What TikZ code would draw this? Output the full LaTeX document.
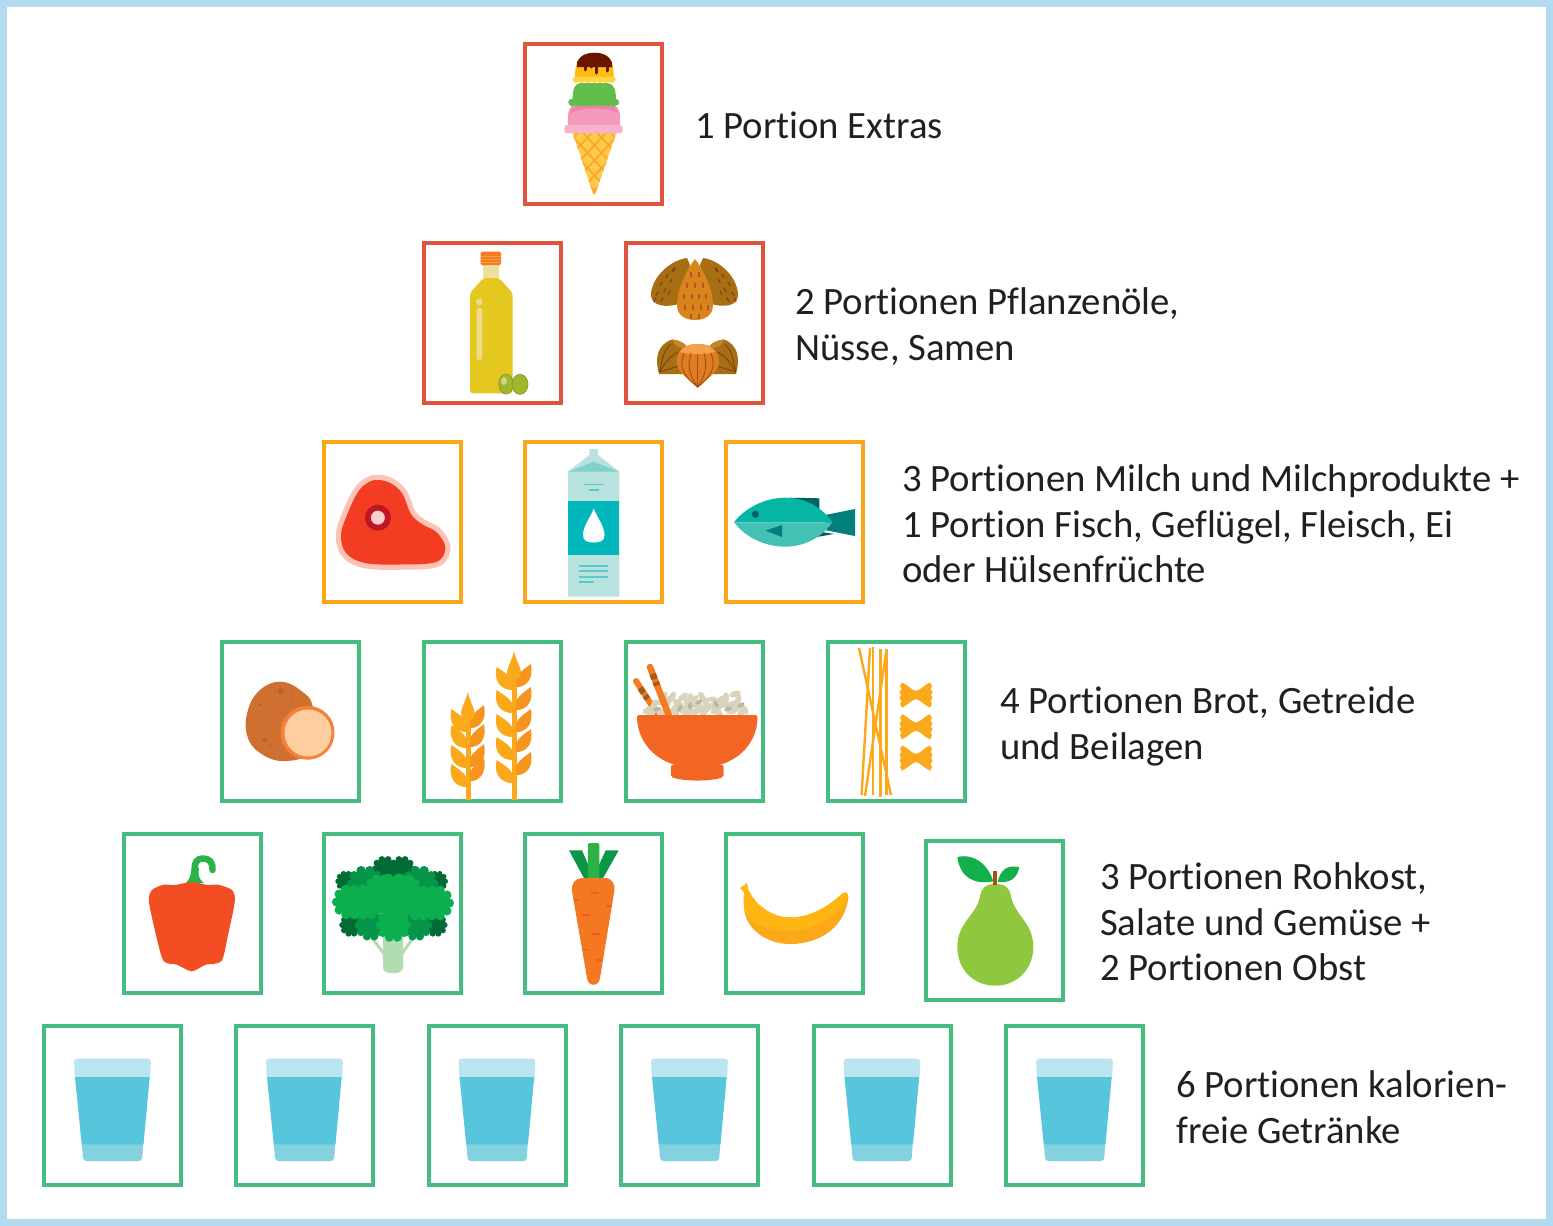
\documentclass[tikz,border=0pt]{standalone}
\usepackage{fontspec}
\setmainfont[Ligatures=NoCommon]{Carlito}
\definecolor{frameblue}{HTML}{B3DAEE}
\definecolor{redbox}{HTML}{E0533D}
\definecolor{orangebox}{HTML}{FAA61A}
\definecolor{greenbox}{HTML}{45BD7E}
\definecolor{ink}{HTML}{231F20}
\definecolor{wheatA}{HTML}{FBA81A}
\definecolor{wheatB}{HTML}{F7941D}
\definecolor{brocA}{HTML}{026B35}
\definecolor{brocB}{HTML}{05944A}
\definecolor{brocC}{HTML}{0BAF4E}
\definecolor{creamP}{HTML}{F59ABD}
\definecolor{creamPb}{HTML}{F8B2CC}
\definecolor{creamG}{HTML}{62BD4A}
\definecolor{creamY}{HTML}{FFD23F}
\definecolor{creamO}{HTML}{FFBC0F}
\tikzset{
  foodbox/.style={rectangle,minimum width=137pt,minimum height=159.5pt,inner sep=0pt,line width=4.4pt,fill=white},
  redfood/.style={foodbox,draw=redbox},
  orangefood/.style={foodbox,draw=orangebox},
  greenfood/.style={foodbox,draw=greenbox},
  caption/.style={anchor=north west,inner sep=0pt,align=left,text=ink,font=\fontsize{38.7}{45.6}\selectfont},
}
\newcommand{\glassicon}[1]{%
  \begin{scope}[shift={(#1-112.5,0)}]
    \fill[rounded corners=3pt,fill={rgb,255:red,185;green,228;blue,240}] (74,1058.7) -- (151,1058.7) -- (150,1080) -- (75,1080) -- cycle;
    \fill[fill={rgb,255:red,132;green,210;blue,224},rounded corners=3pt] (81.5,1140) -- (143.5,1140) -- (142,1161) -- (83.3,1161) -- cycle;
    \fill[fill={rgb,255:red,87;green,198;blue,220}] (75,1077) -- (149.7,1077) -- (143.5,1144.3) -- (81.7,1144.3) -- cycle;
  \end{scope}}
\newcommand{\wleaf}[4]{% x y xscale fill
  \fill[#4,shift={(#1,#2)},xscale=#3] (0,0) .. controls (-12,0.5) and (-19,-10) .. (-15.5,-23) .. controls (-11,-19) and (-3,-16) .. (0,-8) -- cycle;}
\newcommand{\floret}[4]{% x y r colour
  \fill[#4] (#1,#2) circle (#3);
  \foreach \a in {0,36,...,324} {\fill[#4] (#1,#2) ++(\a:#3) circle ({#3*0.34});}}
\newcommand{\farfalle}[1]{%
  \fill[wheatA,shift={(916,#1)}] (0,-4) .. controls (-5,-5) and (-9,-11) .. (-14,-12.5) -- (-16,-9) -- (-14.5,-6) -- (-16.5,-3) -- (-15,0) -- (-16.5,3) -- (-14.5,6) -- (-16,9) -- (-14,12.5) .. controls (-9,11) and (-5,5) .. (0,4) .. controls (5,5) and (9,11) .. (14,12.5) -- (16,9) -- (14.5,6) -- (16.5,3) -- (15,0) -- (16.5,-3) -- (14.5,-6) -- (16,-9) -- (14,-12.5) .. controls (9,-11) and (5,-5) .. (0,-4) -- cycle;}
\begin{document}
\begin{tikzpicture}[x=1pt,y=-1pt]
\useasboundingbox (0,0) rectangle (1553,1226);
\fill[white] (0,0) rectangle (1553,1226);
\draw[frameblue,line width=7pt] (3.5,3.5) rectangle (1549.5,1222.5);

% boxes
\node[redfood] (b11) at (593.5,124) {};
\node[redfood] (b21) at (492.5,323) {};
\node[redfood] (b22) at (694.5,323) {};
\node[orangefood] (b31) at (392.5,522) {};
\node[orangefood] (b32) at (593.5,522) {};
\node[orangefood] (b33) at (794.5,522) {};
\node[greenfood] (b41) at (290.5,721.5) {};
\node[greenfood] (b42) at (492.5,721.5) {};
\node[greenfood] (b43) at (694.5,721.5) {};
\node[greenfood] (b44) at (896.5,721.5) {};
\node[greenfood] (b51) at (192.5,913.5) {};
\node[greenfood] (b52) at (392.5,913.5) {};
\node[greenfood] (b53) at (593.5,913.5) {};
\node[greenfood] (b54) at (794.5,913.5) {};
\node[greenfood] (b55) at (994.5,920.5) {};
\node[greenfood] (b61) at (112.5,1105.5) {};
\node[greenfood] (b62) at (304.5,1105.5) {};
\node[greenfood] (b63) at (497.5,1105.5) {};
\node[greenfood] (b64) at (689.5,1105.5) {};
\node[greenfood] (b65) at (882.5,1105.5) {};
\node[greenfood] (b66) at (1074.5,1105.5) {};

% captions
\node[caption] (t1) at (695,111.5) {1 Portion Extras};
\node[caption] (t2) at (795,287.5) {2 Portionen Pflanzenöle,\\Nüsse, Samen};
\node[caption] (t3) at (902,464.5) {3 Portionen Milch und Milchprodukte +\\1 Portion Fisch, Geflügel, Fleisch, Ei\\oder Hülsenfrüchte};
\node[caption] (t4) at (1000,686.5) {4 Portionen Brot, Getreide\\und Beilagen};
\node[caption] (t5) at (1100,862.5) {3 Portionen Rohkost,\\Salate und Gemüse +\\2 Portionen Obst};
\node[caption] (t6) at (1176,1070.5) {6 Portionen kalorien-\\freie Getränke};

% ice cream
\begin{scope}
  \fill[fill={rgb,255:red,255;green,201;blue,74}] (572.3,132) -- (616.7,132) -- (596,192) .. controls (595,196) and (593.5,196) .. (592.5,192) -- cycle;
  \clip (572.3,132) -- (616.7,132) -- (596,192) .. controls (595,196) and (593.5,196) .. (592.5,192) -- cycle;
  \foreach \k in {-40,-26,...,52} {
    \draw[fill=none,draw={rgb,255:red,249;green,165;blue,43},line width=1.6pt] (594.5+\k-30,130) -- (594.5+\k+30,195);
    \draw[draw={rgb,255:red,249;green,165;blue,43},line width=1.6pt] (594.5-\k+30,130) -- (594.5-\k-30,195);}
\end{scope}
\fill[creamP] (568,126) .. controls (567,112) and (569,106) .. (576,105) -- (612,105) .. controls (619,106) and (621,112) .. (620,126) -- cycle;
\fill[fill={rgb,255:red,238;green,130;blue,170}] (570,113) .. controls (572,107) and (576,105) .. (582,105) -- (606,105) .. controls (612,105) and (616,107) .. (618,113) .. controls (605,107) and (585,107) .. (570,113) -- cycle;
\fill[rounded corners=3pt,creamPb] (564.3,125) rectangle (622.7,133.3);
\fill[creamG] (572.7,100) .. controls (572.5,90) and (574,84) .. (580,83) -- (608,83) .. controls (614,84) and (616,90) .. (616,100) -- cycle;
\fill[rounded corners=3pt,creamG] (568.3,99) rectangle (619,105.5);
\foreach \q in {572,578,...,616}{\fill[creamG] (\q,105.3) circle (1.5);}
\fill[creamO] (575,78) .. controls (575,62) and (578,53) .. (594.5,53) .. controls (611,53) and (613.7,62) .. (613.7,78) -- cycle;
\fill[rounded corners=3pt,creamY] (572.7,76.7) rectangle (615.7,82.2);
\foreach \q in {576,582,...,612}{\fill[creamY] (\q,82.2) circle (1.3);}
\fill[fill={rgb,255:red,106;green,21;blue,0}] (577,64) .. controls (578,57) and (585,52.7) .. (594.5,52.7) .. controls (604,52.7) and (611,57) .. (612,64) -- (612,67) -- (577,67) -- cycle;
\foreach \dx/\dy in {578.5/66,585/70,591.5/67,596.7/73,602.7/66,607.7/71,610.5/66}{
  \draw[draw={rgb,255:red,106;green,21;blue,0},line width=3pt,line cap=round] (\dx,62) -- (\dx,\dy);}

% oil bottle
\fill[fill={rgb,255:red,229;green,200;blue,31},rounded corners=3pt] (483.3,278) -- (499,278) -- (512.7,293) -- (512.7,393.3) -- (470,393.3) -- (470,293) -- cycle;
\fill[fill={rgb,255:red,237;green,223;blue,160}] (483.3,265) rectangle (499,278.3);
\fill[rounded corners=1.5pt,fill={rgb,255:red,244;green,123;blue,32}] (480.7,251.7) rectangle (501,265);
\foreach \yy in {256,259.5,262} {\draw[draw={rgb,255:red,252;green,160;blue,70},line width=.7pt] (480.7,\yy) -- (501,\yy);}
\fill[fill={rgb,255:red,239;green,220;blue,138}] (479.3,302) circle (3.3);
\fill[rounded corners=2.5pt,fill={rgb,255:red,239;green,220;blue,138}] (476.7,308) rectangle (482.3,360);
\fill[fill={rgb,255:red,163;green,181;blue,43},draw={rgb,255:red,134;green,160;blue,58},line width=.8pt] (506,384) ellipse (7.3 and 10);
\fill[fill={rgb,255:red,163;green,181;blue,43},draw={rgb,255:red,134;green,160;blue,58},line width=.8pt] (520,384.3) ellipse (8 and 10);
\fill[fill={rgb,255:red,205;green,215;blue,130}] (504,381) ellipse (3 and 4);

% almonds
\fill[fill={rgb,255:red,168;green,110;blue,20}] (687,258) .. controls (670,260) and (651,278) .. (651,295) .. controls (651,305) and (664,309) .. (682,303) -- (690,265) -- cycle;
\fill[fill={rgb,255:red,168;green,110;blue,20}] (703,258) .. controls (720,260) and (738,278) .. (738,295) .. controls (738,305) and (726,309) .. (708,303) -- (700,265) -- cycle;
\fill[fill={rgb,255:red,216;green,133;blue,30}] (695,259) .. controls (699,264) and (713,285) .. (713,305) .. controls (713,316) and (704,320) .. (695,320) .. controls (686,320) and (677,316) .. (677,305) .. controls (677,285) and (691,264) .. (695,259) -- cycle;
\foreach \px/\py in {675/268,668/274,662/282,672/279,666/288,658/292,670/291,663/298,674/268,656/298}{
  \draw[draw={rgb,255:red,130;green,65;blue,25},line width=1.2pt,line cap=round] (\px,\py) -- ++(-2,3.5);
  \draw[draw={rgb,255:red,130;green,65;blue,25},line width=1.2pt,line cap=round] (1390-\px,\py) -- ++(2,3.5);}
\foreach \px/\py in {691/272,699/272,687/283,695/283,703/283,684/294,692/294,699/294,706/294,685/305,693/305,701/305,708/305,691/314,699/314}{
  \draw[draw={rgb,255:red,190;green,83;blue,31},line width=1.2pt] (\px,\py) -- ++(0,4.5);}

% hazelnuts
\fill[fill={rgb,255:red,166;green,111;blue,20}] (659,374) .. controls (655,360) and (656,345) .. (672,339.5) .. controls (680,340) and (688,345) .. (688,350) -- (690,374) -- cycle;
\fill[fill={rgb,255:red,166;green,111;blue,20}] (736,374) .. controls (740,360) and (739,345) .. (724,339.5) .. controls (716,340) and (708,345) .. (708,350) -- (706,374) -- cycle;
\fill[fill={rgb,255:red,196;green,134;blue,44}] (672,339.5) .. controls (680,340) and (688,345) .. (688,350) -- (676,346) -- cycle;
\fill[fill={rgb,255:red,196;green,134;blue,44}] (724,339.5) .. controls (716,340) and (708,345) .. (708,350) -- (720,346) -- cycle;
\foreach \qs in {1,-1}{
  \begin{scope}[shift={(697.7,0)},xscale=\qs]
    \draw[draw={rgb,255:red,125;green,66;blue,18},line width=.9pt] (-27,344) .. controls (-36,352) and (-36,365) .. (-38,372);
    \draw[draw={rgb,255:red,125;green,66;blue,18},line width=.9pt] (-20,352) .. controls (-30,358) and (-34,365) .. (-38,372);
    \draw[draw={rgb,255:red,125;green,66;blue,18},line width=.9pt] (-18,366) .. controls (-26,368) and (-32,370) .. (-38,372);
  \end{scope}}
\fill[fill={rgb,255:red,221;green,127;blue,32}] (676.7,362) .. controls (676.7,350) and (685,344) .. (697.7,344) .. controls (711,344) and (719,350) .. (719,362) .. controls (719,372) and (705,380) .. (697.7,388) .. controls (690,380) and (676.7,372) .. (676.7,362) -- cycle;
\fill[fill={rgb,255:red,246;green,160;blue,77}] (680,352) .. controls (684,346) and (690,344) .. (697.7,344) .. controls (706,344) and (712,346) .. (715,352) .. controls (705,355) and (690,355) .. (680,352) -- cycle;
\foreach \tx/\mx in {684/680,691/688,704/707,711/715}{
  \draw[draw={rgb,255:red,168;green,75;blue,22},line width=.9pt] (\tx,353) .. controls (\mx,365) and (\mx,373) .. (697.7,387);}
\draw[draw={rgb,255:red,168;green,75;blue,22},line width=.9pt] (697.7,354) -- (697.7,387);

% steak
\draw[draw={rgb,255:red,253;green,196;blue,182},line width=10.5pt,line join=round] plot[smooth cycle,tension=.6] coordinates {(379.6,480) (392,484) (402.5,494) (411,514) (421.8,524) (437,532.5) (445.3,548) (436,562) (400,564.5) (365,563) (346,553) (341,535) (347,515) (358,492) (369,482)};
\fill[fill={rgb,255:red,242;green,61;blue,35}] plot[smooth cycle,tension=.6] coordinates {(379.6,480) (392,484) (402.5,494) (411,514) (421.8,524) (437,532.5) (445.3,548) (436,562) (400,564.5) (365,563) (346,553) (341,535) (347,515) (358,492) (369,482)};
\fill[fill={rgb,255:red,190;green,22;blue,34}] (377.9,517.7) circle (13);
\fill[fill={rgb,255:red,249;green,208;blue,204}] (377.9,517.7) circle (7);

% milk carton
\fill[fill={rgb,255:red,183;green,226;blue,222}] (568,596.7) -- (568,471.7) -- (589.5,455) -- (589.5,449) -- (598,449) -- (598,455) -- (619.3,471.7) -- (619.3,596.7) -- cycle;
\fill[fill={rgb,255:red,130;green,208;blue,200}] (568,471.7) -- (593.7,461.7) -- (619.3,471.7) -- cycle;
\fill[fill={rgb,255:red,0;green,184;blue,188}] (568,501) rectangle (619.3,555);
\fill[white] (593.7,508.3) .. controls (596,516) and (604.5,526) .. (604.5,535) .. controls (604.5,541) and (600,542.5) .. (593.7,542.5) .. controls (587.5,542.5) and (583,541) .. (583,535) .. controls (583,526) and (591.5,516) .. (593.7,508.3) -- cycle;
\foreach \qa/\qb/\qc in {584/603.5/484.3,589/599/489.7,579/607.7/565.7,579/607.7/571,579/607.7/576.7,579/593.7/582}{
  \draw[draw={rgb,255:red,92;green,200;blue,202},line width=1.6pt] (\qa,\qc) -- (\qb,\qc);}

% fish
\fill[fill={rgb,255:red,0;green,98;blue,95}] (790,497.7) -- (819.3,498.3) -- (819.3,514) -- (800,514) -- cycle;
\fill[fill={rgb,255:red,0;green,98;blue,95}] (808,538.5) -- (834,534) -- (822,532) -- cycle;
\fill[fill={rgb,255:red,0;green,127;blue,123}] (825,515) -- (855,509) -- (855,536) -- (825,530) -- cycle;
\fill[fill={rgb,255:red,5;green,182;blue,164}] (734,522.3) .. controls (745,508) and (765,497.7) .. (785,497.7) .. controls (805,497.7) and (822,507) .. (832.3,522.3) -- cycle;
\fill[fill={rgb,255:red,66;green,193;blue,180}] (734,522.3) .. controls (745,537) and (765,546.7) .. (785,546.7) .. controls (805,546.7) and (822,537) .. (832.3,522.3) -- cycle;
\fill[fill={rgb,255:red,0;green,98;blue,95}] (755.4,514.3) circle (3.6);
\fill[fill={rgb,255:red,0;green,127;blue,123}] (765.6,530.7) -- (782,525) -- (782,537) -- cycle;

% potato
\fill[fill={rgb,255:red,207;green,112;blue,49}] plot[smooth cycle,tension=.7] coordinates {(280,681.7) (300,690) (313,708) (310,750) (285,761) (260,753) (247,735) (248,710) (260,690)};
\foreach \sx/\sy/\sr in {281/691/3,292/696/1.3,260/705/1.6,265/740/2.4,271/745/1.2,248/720/1}{
  \fill[fill={rgb,255:red,188;green,98;blue,41}] (\sx,\sy) circle (\sr);}
\fill[fill={rgb,255:red,245;green,129;blue,56}] (307.5,732.7) circle (27);
\fill[fill={rgb,255:red,254;green,205;blue,160}] (308,733) circle (23.5);

% wheat
\fill[wheatA] (466,718) rectangle (471,800);
\fill[wheatA] (512,678) rectangle (517,800);
\foreach \yy in {732,748,768,787}{\wleaf{467}{\yy}{1}{wheatA}}
\foreach \yy in {728,747,767,781}{\wleaf{470}{\yy}{-0.9}{wheatB}}
\fill[wheatA] (467.8,692) .. controls (470,702) and (474.5,708) .. (474.5,713) .. controls (474.5,718) and (471,721) .. (467.8,721) .. controls (464.5,721) and (461,718) .. (461,713) .. controls (461,708) and (465.5,702) .. (467.8,692) -- cycle;
\foreach \yy in {690,713,737,760,783}{\wleaf{513}{\yy}{1.05}{wheatA}}
\foreach \yy in {687,710,732,752,775}{\wleaf{516}{\yy}{-0.95}{wheatB}}
\fill[wheatA] (514,651) .. controls (516,661) and (521,667) .. (521,672) .. controls (521,677) and (517.5,680) .. (514,680) .. controls (510.5,680) and (507,677) .. (507,672) .. controls (507,667) and (512,661) .. (514,651) -- cycle;

% bowl
\draw[draw={rgb,255:red,244;green,123;blue,32},line width=6pt,line cap=round] (636,681) -- (656,712);
\draw[draw={rgb,255:red,166;green,90;blue,26},line width=6pt] (640.2,688) -- (643.5,693);
\draw[draw={rgb,255:red,166;green,90;blue,26},line width=6pt] (645.2,695.5) -- (647.5,699);
\foreach \rx/\ry/\ra in {648/710/30,654/705/70,660/702/20,666/708/110,672/697/60,678/703/150,684/709/30,690/699/80,696/705/10,702/697/120,708/708/50,714/700/160,720/706/40,726/698/90,732/704/20,738/700/70,744/709/130,650/712/0,662/712/0,676/712/90,690/712/20,704/712/60,718/712/140,732/711/10,742/712/50,697/711/30,683/697/40,664/697/70,722/699/30,735/694/20,668/702/80,676/707/40,687/704/100,694/700/50,706/703/70,712/706/10,724/703/110,730/708/60,737/706/90,672/711/20,686/712/0,700/708/140,716/710/30}{
  \fill[fill={rgb,255:red,217;green,211;blue,188},rotate around={\ra:(\rx,\ry)}] (\rx,\ry) ellipse (6 and 3);}
\foreach \rx/\ry/\ra in {657/709/10,680/708/60,699/702/30,716/704/120,728/709/20,690/706/90,741/705/30}{
  \fill[fill={rgb,255:red,184;green,182;blue,172},rotate around={\ra:(\rx,\ry)}] (\rx,\ry) ellipse (4 and 2);}
\draw[draw={rgb,255:red,244;green,123;blue,32},line width=6.5pt,line cap=round] (650,667) -- (669,716);
\draw[draw={rgb,255:red,166;green,90;blue,26},line width=6.5pt] (652.7,674) -- (654.5,679);
\draw[draw={rgb,255:red,166;green,90;blue,26},line width=6.5pt] (655.7,682) -- (657,685.5);
\fill[fill={rgb,255:red,242;green,101;blue,34},rounded corners=2pt] (670.8,765) -- (723.7,765) -- (723.7,777) .. controls (710,781.5) and (685,781.5) .. (670.8,777) -- cycle;
\fill[fill={rgb,255:red,242;green,101;blue,34}] (639,715) -- (755.5,715) .. controls (757.5,715) and (757.5,717) .. (757.5,718) .. controls (757,745) and (735,768) .. (697,768) .. controls (660,768) and (638,745) .. (637,718) .. controls (637,717) and (637,715) .. (639,715) -- cycle;

% pasta
\foreach \xa/\ya/\xb/\yb in {859/648/891/795,870/648/861.6/795,872.7/647/872.7/795,880.4/649/880.4/797,886.6/649/865/796,886.6/649/886.6/795}{
  \draw[wheatA,line width=2.4pt] (\xa,\ya) -- (\xb,\yb);}
\farfalle{695}
\farfalle{726.7}
\farfalle{758}

% bell pepper
\fill[fill={rgb,255:red,43;green,179;blue,74}] (186,883) .. controls (191,878) and (191,872) .. (192,866) -- (199,868) .. controls (198,875) and (198,878) .. (204,883) -- cycle;
\draw[draw={rgb,255:red,43;green,179;blue,74},line width=6.5pt,line cap=round] (195,872) .. controls (194,862) and (197,858.5) .. (203,858.5) .. controls (209,858.5) and (213,862) .. (212.5,870);
\fill[fill={rgb,255:red,243;green,78;blue,35}] plot[smooth cycle,tension=.45] coordinates {(163.6,884.7) (175,885) (191.7,882) (208,885) (218,884.7) (232,890) (234.8,901.3) (228,935) (221.5,961) (205.7,964.7) (191.7,971.3) (177,964.7) (163.6,961) (156,935) (148.9,901.3) (152,890)};

% broccoli
\fill[fill={rgb,255:red,178;green,220;blue,178}] (383,935) -- (403,935) -- (403,968) .. controls (403,975) and (383,975) .. (383,968) -- cycle;
\draw[draw={rgb,255:red,178;green,220;blue,178},line width=3pt] (369,934) -- (385,955);
\draw[draw={rgb,255:red,178;green,220;blue,178},line width=3pt] (416,934) -- (401,955);
\floret{385}{869}{10}{brocA}
\floret{402}{869}{10}{brocA}
\floret{346}{881.3}{8}{brocA}
\floret{437.3}{881.3}{8}{brocA}
\floret{351.3}{925}{9}{brocA}
\floret{435.5}{925}{9}{brocA}
\floret{365.4}{884}{14}{brocB}
\floret{419.8}{884}{14}{brocB}
\floret{370.6}{925}{12}{brocB}
\floret{416.2}{925}{12}{brocB}
\floret{350}{902}{13.5}{brocC}
\floret{367}{902}{13.5}{brocC}
\floret{436}{903}{13.5}{brocC}
\floret{419}{903}{13.5}{brocC}
\floret{393.4}{897}{18}{brocC}
\floret{380}{890}{12}{brocC}
\floret{406}{890}{12}{brocC}
\floret{393.4}{925}{13}{brocC}

% carrot
\fill[fill={rgb,255:red,10;green,150;blue,71}] (569,850.3) -- (582,850.3) -- (594,878) -- (585,880) -- cycle;
\fill[fill={rgb,255:red,10;green,150;blue,71}] (618.7,850.3) -- (605.7,850.3) -- (593,878) -- (602,880) -- cycle;
\fill[fill={rgb,255:red,43;green,179;blue,74},rounded corners=1.5pt] (587.8,843) rectangle (599.4,880);
\fill[fill={rgb,255:red,244;green,119;blue,33}] (582,878) -- (605,878) .. controls (612,878) and (615,884) .. (614.5,890) -- (600,978) .. controls (599,987) and (588,987) .. (587,978) -- (571.8,890) .. controls (571.5,884) and (575,878) .. (582,878) -- cycle;
\foreach \cx/\cy/\cw in {595/893/4,576/900/2.5,608/906/2.5,586/915/4,596/934/4,586/949.7/3,599/960/2.5}{
  \draw[draw={rgb,255:red,241;green,90;blue,36},line width=1.3pt] (\cx-\cw,\cy) -- (\cx+\cw,\cy);}

% banana
\fill[fill={rgb,255:red,252;green,168;blue,26}] (744,908) .. controls (746,932) and (770,944) .. (790,944) .. controls (822,944) and (846,925) .. (848.5,896) -- (843,893) .. controls (830,905) and (812,917.5) .. (790,917.5) .. controls (772,917.5) and (755,905) .. (748.5,890) -- cycle;
\fill[fill={rgb,255:red,255;green,182;blue,18}] (740,888) -- (747,883) -- (748.5,890) .. controls (755,905) and (772,917.5) .. (790,917.5) .. controls (812,917.5) and (830,905) .. (843,893) .. controls (846,891) and (849,894) .. (848,897) .. controls (840,912) and (815,931) .. (790,931) .. controls (770,931) and (748,925) .. (744,908) .. controls (743,900) and (744,895) .. (744,892) -- cycle;

% pear
\fill[fill={rgb,255:red,143;green,199;blue,62}] (995.3,884) .. controls (1005,884) and (1009,887) .. (1011,896) .. controls (1014,915) and (1033.3,922) .. (1033.3,947) .. controls (1033.3,970) and (1016,985.7) .. (995.3,985.7) .. controls (974,985.7) and (957.3,970) .. (957.3,947) .. controls (957.3,922) and (977,915) .. (980,896) .. controls (982,887) and (986,884) .. (995.3,884) -- cycle;
\fill[fill={rgb,255:red,168;green,80;blue,28}] (993.3,871.3) rectangle (997.3,884.5);
\fill[fill={rgb,255:red,18;green,176;blue,74}] (957.3,857) .. controls (975,853) and (988,865) .. (993.3,881.3) .. controls (975,885) and (960,878) .. (957.3,857) -- cycle;
\fill[fill={rgb,255:red,18;green,176;blue,74}] (1019.3,867.3) .. controls (1008,864) and (1000,870) .. (997.7,882) .. controls (1008,883) and (1017,880) .. (1019.3,867.3) -- cycle;

% water glasses
\glassicon{112.5}
\glassicon{304.5}
\glassicon{497}
\glassicon{689.5}
\glassicon{882}
\glassicon{1074.5}
\end{tikzpicture}
\end{document}
